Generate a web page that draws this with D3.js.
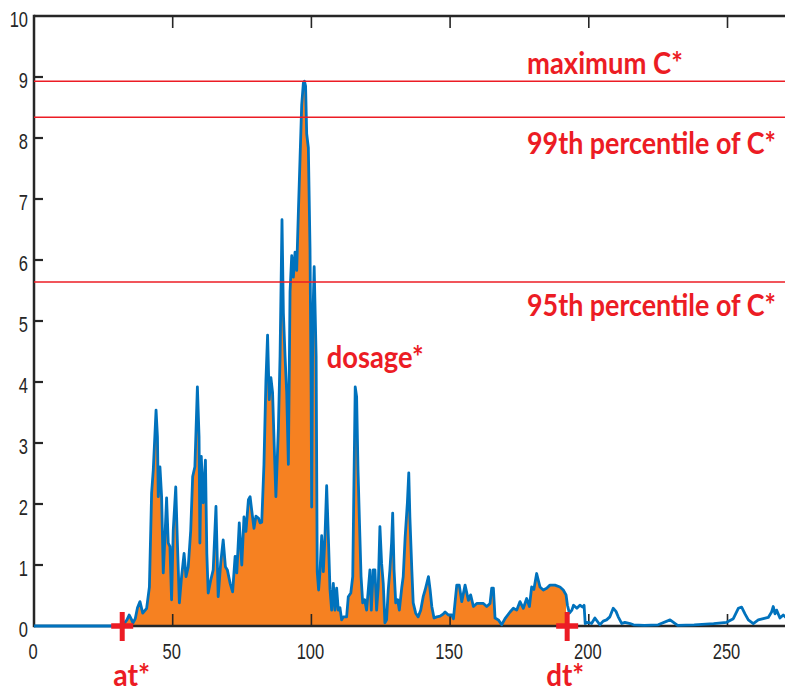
<!DOCTYPE html>
<html>
<head>
<meta charset="utf-8">
<script src="https://cdn.jsdelivr.net/npm/d3@7"></script>
<style>
  html, body { margin: 0; padding: 0; background: #fff; overflow: hidden; }
  svg { display: block; }
  .tick-lbl { font-family: "Liberation Sans", Arial, sans-serif; font-size: 22px; fill: #262626; }
  .note { font-family: Lato, "Open Sans", sans-serif; font-weight: 700; fill: #ec1c24; }
</style>
</head>
<body>
<svg id="chart" width="785" height="693"></svg>
<script>
// --- data ---
const xTicks = [0, 50, 100, 150, 200, 250];
const yTicks = [0, 1, 2, 3, 4, 5, 6, 7, 8, 9, 10];

// [t, C*]
const cSeries = [
  [0,0],[10,0],[20,0],[30,0],[32,0.01],[33.5,0.1],[34.3,0.18],[35,0.12],[35.7,0.05],[36.5,0.12],
  [37.3,0.3],[38.2,0.4],[39.2,0.21],[40.6,0.29],[41.6,0.64],[42.4,2.18],[43.0,2.56],[44.0,3.54],[44.5,3.10],[44.8,2.12],
  [45.4,2.61],[46.0,2.12],[46.6,0.87],[47.2,1.46],[47.8,2.10],[48.4,1.36],[49.0,1.30],[49.6,0.43],[50.2,1.57],[51.1,2.28],
  [51.7,1.36],[52.4,0.38],[53.2,0.81],[54.1,1.19],[54.8,0.81],[55.6,0.97],[56.5,1.57],[57.2,2.45],[58.0,2.61],[58.9,3.92],
  [59.5,3.10],[59.8,1.36],[60.3,2.78],[61.0,2.02],[61.8,2.72],[62.3,1.19],[62.8,0.54],[63.7,0.75],[64.6,0.92],[65.6,1.96],
  [66.4,0.48],[67.3,1.03],[68.2,1.41],[69.0,0.97],[69.7,0.92],[70.7,0.70],[71.6,0.56],[72.5,1.14],[73.1,0.87],[74.0,1.69],
  [74.9,1.0],[75.7,1.79],[76.4,1.55],[77.3,2.07],[77.9,2.12],[78.5,1.89],[79.3,1.6],[80.0,1.8],[80.9,1.77],[81.5,1.69],
  [82.1,1.7],[82.9,2.65],[83.6,4.01],[84.2,4.77],[84.8,3.71],[85.4,4.07],[86.0,3.83],[86.6,2.95],[87.2,2.12],[88.1,3.24],
  [88.7,4.42],[89.4,6.66],[89.9,5.13],[90.5,4.42],[91.1,3.83],[91.7,2.65],[92.3,5.48],[92.9,6.07],[93.5,5.72],[94.1,6.13],
  [94.7,5.83],[95.3,6.78],[95.9,7.66],[96.5,8.54],[97.1,8.90],[97.5,8.93],[97.9,8.85],[98.3,8.07],[98.9,7.84],[99.5,6.19],
  [99.9,3.83],[100.1,1.95],[100.5,5.01],[101.0,5.89],[101.7,4.42],[102.1,0.89],[102.6,0.59],[103.1,0.89],[103.7,1.48],[104.3,0.89],
  [104.9,1.48],[105.5,2.3],[106.1,1.48],[106.7,0.6],[107.3,0.26],[107.9,0.70],[108.5,0.26],[109.1,0.62],[109.7,0.26],[110.3,0.3],
  [110.9,0.10],[111.5,0.15],[112.7,0.15],[113.3,0.48],[114.2,0.54],[114.9,0.81],[115.4,2.56],[115.8,3.92],[116.3,3.76],[116.8,2.56],
  [117.3,1.74],[117.9,0.81],[118.5,0.38],[119.2,0.43],[119.9,0.26],[120.5,0.59],[121.1,0.92],[121.6,0.26],[122.3,0.92],[122.9,0.92],
  [123.5,0.26],[124.1,0.64],[124.7,1.63],[125.3,1.03],[125.9,0.70],[126.5,0.05],[127.1,0.1],[127.7,0.59],[128.3,0.92],[128.9,1.36],
  [129.3,1.85],[129.8,0.92],[130.4,0.38],[131.1,0.43],[131.7,0.26],[132.6,0.64],[133.1,0.81],[133.8,1.46],[134.6,2.02],[135.1,2.51],
  [135.5,1.79],[136.2,0.92],[136.7,0.38],[137.6,0.21],[138.5,0.15],[139.4,0.26],[140.3,0.48],[141.0,0.59],[141.6,0.70],[142.2,0.81],
  [142.8,0.59],[143.4,0.32],[144.2,0.13],[145.2,0.15],[146.4,0.16],[147.6,0.2],[148.2,0.23],[149.4,0.18],[150.6,0.18],[151.2,0.12],
  [152.4,0.67],[153.3,0.67],[154.2,0.40],[155.4,0.67],[156.6,0.42],[157.4,0.51],[158.4,0.32],[159.6,0.37],[160.8,0.37],[162.0,0.37],
  [163.2,0.32],[164.4,0.37],[165.0,0.62],[165.6,0.62],[166.2,0.13],[167.4,0.1],[168.6,0.02],[169.8,0.12],[171.6,0.23],[172.8,0.29],
  [174.0,0.26],[175.2,0.40],[176.4,0.29],[177.6,0.45],[178.6,0.32],[179.4,0.64],[180.2,0.6],[181.2,0.86],[181.8,0.75],[182.4,0.64],
  [183.6,0.59],[184.8,0.62],[186.0,0.67],[187.8,0.67],[189.6,0.64],[190.8,0.59],[191.8,0.51],[192.3,0.34],[193.0,0.21],[193.9,0.26],
  [194.5,0.34],[195.7,0.29],[196.8,0.34],[197.8,0.31],[198.3,0.34],[198.7,0.04],[199.8,0.06],[201.0,0.04],[202.2,0.13],[204.0,0.02],
  [205.2,0.08],[206.4,0.1],[207.6,0.15],[208.8,0.29],[209.8,0.24],[210.6,0.15],[211.9,0.04],[213.0,0.06],[214.9,0.04],[216.1,0.02],
  [220,0.01],[225,0.02],[229.3,0.1],[232,0.01],[238,0.02],[245,0.04],[249.7,0.06],[252.1,0.12],[253.9,0.29],[255.1,0.31],
  [256.3,0.2],[257.5,0.1],[259.3,0.04],[261.1,0.1],[262.9,0.12],[264.7,0.14],[265.9,0.23],[266.5,0.32],[267.1,0.2],[267.7,0.26],
  [268.9,0.13],[270.1,0.18],[272,0.1]
];

const arrivalT = 31.8;   // at*
const departT = 192.2;   // dt*

const thresholdVals = [8.93, 8.34, 5.64];
const thresholdLabels = ["maximum C*", "99th percentile of C*", "95th percentile of C*"];

const dosageLabel = "dosage*";
const dosageAt = [105.5, 4.4];   // where the label sits, in data units

// --- drawing ---
const W = 785, H = 693;
const svg = d3.select("#chart");

const x = d3.scaleLinear().domain([0, 250]).range([34, 727.5]);
const y = d3.scaleLinear().domain([0, 10]).range([626, 16]);

const blue = "#0072bd", orange = "#f68121", red = "#ec1c24", axisCol = "#262626";

// filled dosage area between at* and dt*
const inWindow = cSeries.filter(d => d[0] >= arrivalT && d[0] <= departT);
svg.append("path")
  .datum(inWindow)
  .attr("fill", orange)
  .attr("d", d3.area().x(d => x(d[0])).y0(y(0)).y1(d => y(d[1])));

// axes box (left, bottom, top) with inward ticks
const ax = svg.append("g").attr("stroke", axisCol).attr("fill", "none");
ax.append("line").attr("x1", x(0)).attr("x2", W).attr("y1", y(0)).attr("y2", y(0)).attr("stroke-width", 2.5);
ax.append("line").attr("x1", x(0)).attr("x2", W).attr("y1", y(10)).attr("y2", y(10)).attr("stroke-width", 2.5);
ax.append("line").attr("x1", x(0)).attr("x2", x(0)).attr("y1", y(0) + 1.2).attr("y2", y(10) - 1.2).attr("stroke-width", 2.5);

ax.selectAll("line.xt").data(xTicks.slice(1)).join("line")
  .attr("class", "xt")
  .attr("x1", d => x(d)).attr("x2", d => x(d))
  .attr("y1", y(0)).attr("y2", y(0) - 12).attr("stroke-width", 1.6);
ax.selectAll("line.xtt").data(xTicks.slice(1)).join("line")
  .attr("class", "xtt")
  .attr("x1", d => x(d)).attr("x2", d => x(d))
  .attr("y1", y(10)).attr("y2", y(10) + 12).attr("stroke-width", 1.6);
ax.selectAll("line.yt").data(yTicks.slice(1, -1)).join("line")
  .attr("class", "yt")
  .attr("x1", x(0)).attr("x2", x(0) + 9)
  .attr("y1", d => y(d)).attr("y2", d => y(d)).attr("stroke-width", 2.2);

// tick labels (the figure's font is narrow, so squeeze horizontally)
svg.selectAll("text.xl").data(xTicks).join("text")
  .attr("class", "tick-lbl xl")
  .attr("text-anchor", "middle")
  .attr("transform", d => `translate(${x(d) - 1},658.5) scale(0.75,1)`)
  .text(d => d);
svg.selectAll("text.yl").data(yTicks).join("text")
  .attr("class", "tick-lbl yl")
  .attr("text-anchor", "end")
  .attr("transform", d => `translate(28,${y(d) + 11}) scale(0.75,1)`)
  .text(d => d);

// C* time series
svg.append("path")
  .datum(cSeries)
  .attr("fill", "none")
  .attr("stroke", blue)
  .attr("stroke-width", 2.8)
  .attr("stroke-linejoin", "round")
  .attr("d", d3.line().x(d => x(d[0])).y(d => y(d[1])));

// threshold lines + labels
const labelDy = [-7.5, 37, 34];
const labelLen = [156, 249, 249];
svg.selectAll("line.thr").data(thresholdVals).join("line")
  .attr("class", "thr")
  .attr("x1", x(0)).attr("x2", W)
  .attr("y1", d => y(d)).attr("y2", d => y(d))
  .attr("stroke", red).attr("stroke-width", 1.5);
svg.selectAll("text.thr").data(thresholdVals).join("text")
  .attr("class", "note thr")
  .attr("x", 527)
  .attr("y", (d, i) => y(d) + labelDy[i])
  .attr("font-size", 31)
  .attr("textLength", (d, i) => labelLen[i])
  .attr("lengthAdjust", "spacingAndGlyphs")
  .text((d, i) => thresholdLabels[i]);

svg.append("text")
  .attr("class", "note")
  .attr("x", x(dosageAt[0]))
  .attr("y", y(dosageAt[1]) + 10)
  .attr("font-size", 31)
  .attr("textLength", 97)
  .attr("lengthAdjust", "spacingAndGlyphs")
  .text(dosageLabel);

// at* / dt* markers
const marks = [[arrivalT, "at*"], [departT, "dt*"]];
const markDx = [-9, -21];
const mk = svg.selectAll("g.mk").data(marks).join("g").attr("class", "mk");
mk.append("line")
  .attr("x1", d => x(d[0]) - 11).attr("x2", d => x(d[0]) + 11)
  .attr("y1", y(0)).attr("y2", y(0))
  .attr("stroke", red).attr("stroke-width", 5.5);
mk.append("line")
  .attr("x1", d => x(d[0])).attr("x2", d => x(d[0]))
  .attr("y1", y(0) - 14).attr("y2", y(0) + 15)
  .attr("stroke", red).attr("stroke-width", 5);
mk.append("text")
  .attr("class", "note")
  .attr("x", (d, i) => x(d[0]) + markDx[i])
  .attr("y", 686)
  .attr("font-size", 31)
  .attr("textLength", d => d[1] === "at*" ? 37 : 38)
  .attr("lengthAdjust", "spacingAndGlyphs")
  .text(d => d[1]);
</script>
</body>
</html>
